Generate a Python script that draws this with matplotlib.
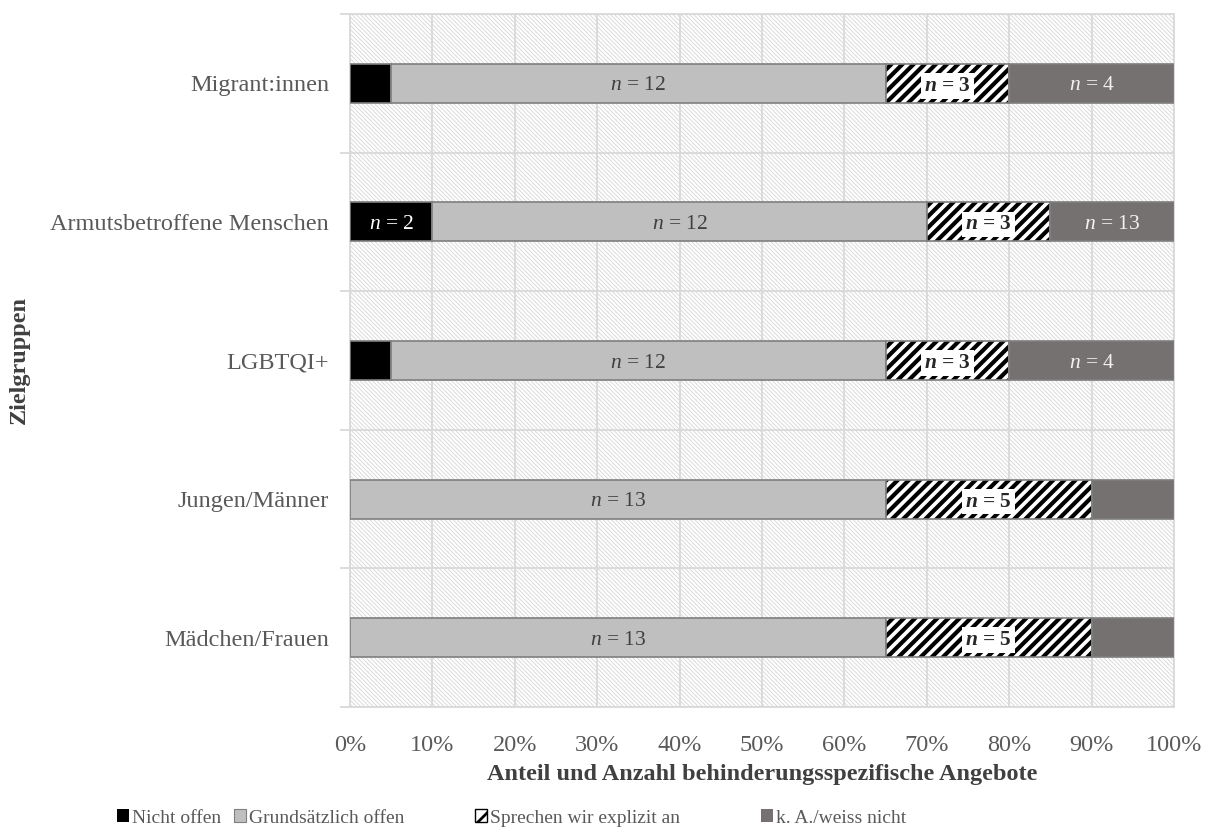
import numpy as np
import matplotlib
matplotlib.use('Agg')
import matplotlib.pyplot as plt
from matplotlib.patches import Rectangle, Patch

plt.rcParams['font.family'] = ['Liberation Serif', 'DejaVu Serif']
plt.rcParams['mathtext.fontset'] = 'custom'
plt.rcParams['mathtext.rm'] = 'Liberation Serif'
plt.rcParams['mathtext.it'] = 'Liberation Serif:italic'
plt.rcParams['mathtext.bf'] = 'Liberation Serif:bold'
plt.rcParams['mathtext.bfit'] = 'Liberation Serif:italic:bold'

# Zielgruppen von unten nach oben
groups = ['Mädchen/Frauen', 'Jungen/Männer', 'LGBTQI+',
          'Armutsbetroffene Menschen', 'Migrant:innen']

# Anteile in %
nicht_offen = [0, 0, 5, 10, 5]
grundsaetzlich = [65, 65, 60, 60, 60]
sprechen = [25, 25, 15, 15, 15]
keine_angabe = [10, 10, 20, 15, 20]

# Beschriftung (Anzahl n)
n_nicht = ['', '', '', '2', '']
n_grund = ['13', '13', '12', '12', '12']
n_sprechen = ['5', '5', '3', '3', '3']
n_ka = ['', '', '4', '13', '4']

series = ['Nicht offen', 'Grundsätzlich offen', 'Sprechen wir explizit an', 'k. A./weiss nicht']

GRID = '#d9d9d9'
EDGE = '#7f7f7f'
C_BLACK = '#000000'
C_LIGHT = '#bfbfbf'
C_DARK = '#767171'
TXT = '#595959'


def hatch_lw(patch, lw):
    try:
        patch.set_hatch_linewidth(lw)
    except AttributeError:
        pass


fig = plt.figure(figsize=(12.1, 8.39), dpi=100)
ax = fig.add_axes([350 / 1210, 1 - 707 / 839, 824 / 1210, 693 / 839])

# schraffierter Hintergrund der Zeichenfläche
bg = Rectangle((0, 0), 1, 1, transform=ax.transAxes, facecolor='white',
               edgecolor='#dadada', lw=0, hatch='\\' * 8, zorder=0)
hatch_lw(bg, 0.7)
ax.add_patch(bg)

y = np.arange(len(groups))
h = 0.28
left = np.zeros(len(groups))

ax.barh(y, nicht_offen, h, left=left, color=C_BLACK, edgecolor=EDGE, lw=1.2, zorder=3)
left += nicht_offen
ax.barh(y, grundsaetzlich, h, left=left, color=C_LIGHT, edgecolor=EDGE, lw=1.2, zorder=3)
left_gr = left.copy()
left += grundsaetzlich
hb = ax.barh(y, sprechen, h, left=left, color='white', edgecolor='black', lw=0,
             hatch='///', zorder=3)
for p in hb:
    hatch_lw(p, 3.0)
ax.barh(y, sprechen, h, left=left, fill=False, edgecolor=EDGE, lw=1.2, zorder=4)
left_sp = left.copy()
left += sprechen
ax.barh(y, keine_angabe, h, left=left, color=C_DARK, edgecolor=EDGE, lw=1.2, zorder=3)
left_ka = left.copy()

fs_n = 15.5
va = 'center_baseline'
for i in range(len(groups)):
    if n_nicht[i]:
        ax.text(nicht_offen[i] / 2, y[i], r'$n$ = ' + n_nicht[i], ha='center', va=va,
                fontsize=fs_n, color='white', zorder=6)
    if n_grund[i]:
        ax.text(left_gr[i] + grundsaetzlich[i] / 2, y[i], r'$n$ = ' + n_grund[i],
                ha='center', va=va, fontsize=fs_n, color='#404040', zorder=6)
    if n_sprechen[i]:
        ax.text(left_sp[i] + sprechen[i] / 2, y[i], r'$\mathbfit{n}$ = ' + n_sprechen[i],
                ha='center', va=va, fontsize=fs_n, fontweight='bold', color='#262626',
                zorder=6, bbox=dict(facecolor='white', edgecolor='none', pad=2))
    if n_ka[i]:
        ax.text(left_ka[i] + keine_angabe[i] / 2, y[i], r'$n$ = ' + n_ka[i],
                ha='center', va=va, fontsize=fs_n, color='#f2f2f2', zorder=6)

ax.set_xlim(0, 100)
ax.set_ylim(-0.5, len(groups) - 0.5)
ax.set_xticks(np.arange(0, 101, 10))
ax.set_xticklabels([f'{v}%' for v in range(0, 101, 10)], fontsize=17.5, color=TXT)
ax.set_yticks(y)
ax.set_yticklabels(groups, fontsize=17.5, color=TXT)
ax.set_yticks(np.arange(-0.5, len(groups), 1), minor=True)
ax.tick_params(axis='x', length=0, pad=20)
ax.tick_params(axis='y', which='major', length=0, pad=15)
ax.tick_params(axis='y', which='minor', length=7, color=GRID, width=1.3)

ax.grid(axis='x', color=GRID, lw=1.3, zorder=1)
ax.grid(axis='y', which='minor', color=GRID, lw=1.3, zorder=1)
ax.set_axisbelow(True)
for s in ax.spines.values():
    s.set_color(GRID)
    s.set_linewidth(1.3)

ax.set_xlabel('Anteil und Anzahl behinderungsspezifische Angebote', fontsize=17.5,
              fontweight='bold', color='#404040', labelpad=6)
fig.text(19 / 1210, 1 - 360 / 839, 'Zielgruppen', rotation=90, fontsize=17.5,
         fontweight='bold', color='#404040', ha='center', va='center')

# Legende: ein Eintrag je Reihe, nebeneinander
handles = [
    Patch(facecolor=C_BLACK, edgecolor=C_BLACK, lw=0),
    Patch(facecolor=C_LIGHT, edgecolor=EDGE, lw=0.8),
    Patch(facecolor='white', edgecolor='black', lw=1.0, hatch='//'),
    Patch(facecolor=C_DARK, edgecolor=C_DARK, lw=0),
]
leg_x = [117, 234, 475, 761]
for hnd, name, lx in zip(handles, series, leg_x):
    leg = fig.legend([hnd], [name], loc='center left',
                     bbox_to_anchor=(lx / 1210, 1 - 818 / 839), frameon=False,
                     fontsize=14, handlelength=0.6, handleheight=0.6, handletextpad=0.15,
                     borderaxespad=0, borderpad=0, labelcolor=TXT)
    for p in leg.get_patches():
        hatch_lw(p, 2.0)

fig.savefig('out.png', dpi=100)
